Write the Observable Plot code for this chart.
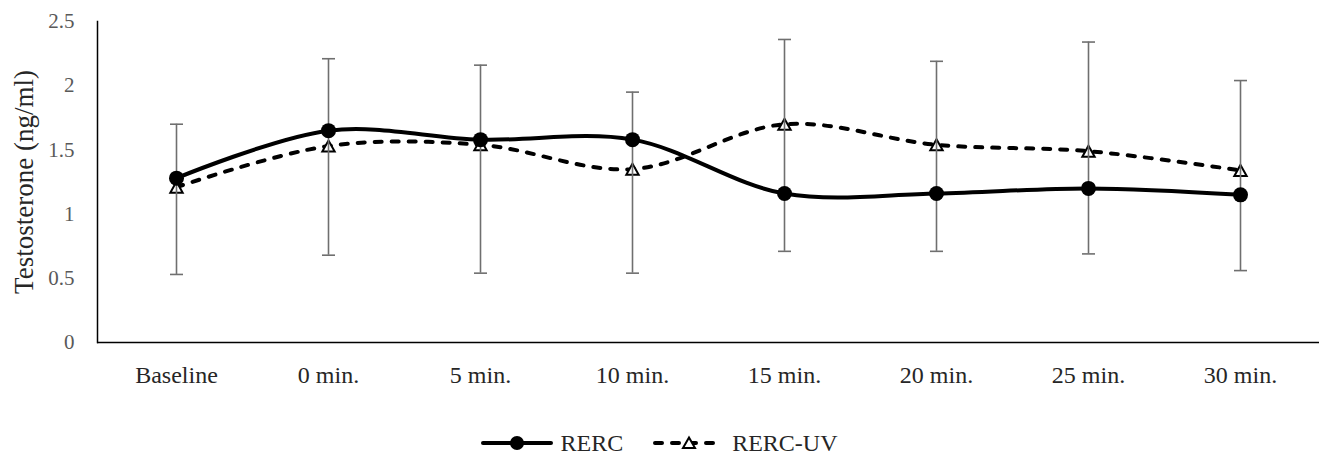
<!DOCTYPE html>
<html>
<head>
<meta charset="utf-8">
<script src="https://cdn.jsdelivr.net/npm/d3@7"></script>
<script src="https://cdn.jsdelivr.net/npm/@observablehq/plot@0.6"></script>
<style>
  html, body { margin: 0; padding: 0; background: #fff; }
  #chart svg { display: block; }
  .legend { display: flex; justify-content: center; align-items: center; gap: 30px;
            font-family: "Liberation Serif", serif; font-size: 24px; color: #262626;
            padding-top: 29px; line-height: 24px; }
  .legend .item { display: flex; align-items: center; gap: 7px; }
  .legend svg { display: block; }
</style>
</head>
<body>
<div id="chart"></div>
<script>
// ---- data ----
const categories = ["Baseline", "0 min.", "5 min.", "10 min.", "15 min.", "20 min.", "25 min.", "30 min."];
const rerc   = [1.28, 1.65, 1.58, 1.58, 1.16, 1.16, 1.20, 1.15];
const rercUV = [1.21, 1.53, 1.54, 1.35, 1.70, 1.54, 1.49, 1.34];
const errHigh = [1.70, 2.21, 2.16, 1.95, 2.36, 2.19, 2.34, 2.04];
const errLow  = [0.53, 0.68, 0.54, 0.54, 0.71, 0.71, 0.69, 0.56];
const yTicks = [0, 0.5, 1, 1.5, 2, 2.5];
const seriesNames = ["RERC", "RERC-UV"];
const yLabel = "Testosterone (ng/ml)";

const rowsR = categories.map((c, i) => ({cat: c, v: rerc[i]}));
const rowsU = categories.map((c, i) => ({cat: c, v: rercUV[i]}));
const rowsE = categories.map((c, i) => ({cat: c, lo: errLow[i], hi: errHigh[i]}));

const capSymbol = {draw(ctx, size) { const r = Math.sqrt(size / Math.PI); ctx.moveTo(-r, 0); ctx.lineTo(r, 0); }};
const triSymbol = {draw(ctx, size) {
  const r = Math.sqrt(size / Math.PI); const w = r * 0.95, h = r * 1.7;
  ctx.moveTo(0, -h / 2); ctx.lineTo(w, h / 2); ctx.lineTo(-w, h / 2); ctx.closePath();
}};

const font = "Liberation Serif";
const chart = Plot.plot({
  width: 1319,
  height: 402,
  marginLeft: 97,
  marginRight: 0,
  marginTop: 21,
  marginBottom: 60,
  style: {fontFamily: font, background: "#fff"},
  x: {type: "point", domain: categories, padding: 0.5},
  y: {domain: [0, 2.5]},
  marks: [
    Plot.axisX({tickSize: 0, tickPadding: 23, fontSize: 24, color: "#262626", label: null}),
    Plot.axisY({ticks: yTicks, tickSize: 0, tickPadding: 23, fontSize: 21, color: "#595959",
                tickFormat: d => String(d), label: null}),
    Plot.text([yLabel], {frameAnchor: "left", textAnchor: "middle", lineAnchor: "middle", dx: -73, rotate: -90,
                         fontSize: 27, fill: "#262626", text: d => d}),
    Plot.frame({anchor: "left", stroke: "#000", strokeWidth: 1.5}),
    Plot.ruleY([0], {stroke: "#000", strokeWidth: 1.5}),
    Plot.line(rowsU, {x: "cat", y: "v", curve: "catmull-rom", stroke: "#000", strokeWidth: 4,
                      strokeDasharray: "7,10", strokeLinecap: "round"}),
    Plot.dot(rowsU, {x: "cat", y: "v", symbol: triSymbol, r: 6.5, fill: "#fff", stroke: "#000", strokeWidth: 2}),
    Plot.ruleX(rowsE, {x: "cat", y1: "lo", y2: "hi", stroke: "#6f6f6f", strokeWidth: 1.6}),
    Plot.dot(rowsE, {x: "cat", y: "hi", symbol: capSymbol, r: 6.5, stroke: "#6f6f6f", strokeWidth: 1.6}),
    Plot.dot(rowsE, {x: "cat", y: "lo", symbol: capSymbol, r: 6.5, stroke: "#6f6f6f", strokeWidth: 1.6}),
    Plot.line(rowsR, {x: "cat", y: "v", curve: "catmull-rom", stroke: "#000", strokeWidth: 4}),
    Plot.dot(rowsR, {x: "cat", y: "v", r: 7.5, fill: "#000", stroke: "none"})
  ]
});
document.getElementById("chart").appendChild(chart);

// legend
const legend = document.createElement("div");
legend.className = "legend";
legend.innerHTML =
  `<div class="item"><svg width="72" height="20"><line x1="2" y1="10" x2="70" y2="10" stroke="#000" stroke-width="4" stroke-linecap="round"/><circle cx="36" cy="10" r="7" fill="#000"/></svg><span>${seriesNames[0]}</span></div>` +
  `<div class="item"><svg width="72" height="20"><line x1="2" y1="10" x2="70" y2="10" stroke="#000" stroke-width="4" stroke-dasharray="7,10" stroke-linecap="round"/><path d="M36,4.5 L42,15 L30,15 Z" fill="#fff" stroke="#000" stroke-width="2"/></svg><span>${seriesNames[1]}</span></div>`;
document.body.appendChild(legend);
</script>
</body>
</html>
